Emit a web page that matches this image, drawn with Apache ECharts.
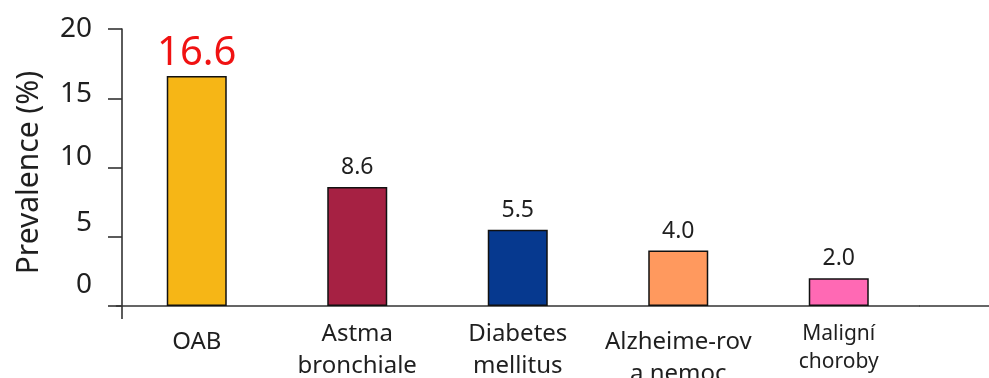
<!DOCTYPE html>
<html>
<head>
<meta charset="utf-8">
<script src="https://cdn.jsdelivr.net/npm/echarts@6/dist/echarts.min.js"></script>
<style>
  html, body { margin: 0; padding: 0; background: #fff; }
  #chart { width: 989px; height: 378px; }
</style>
</head>
<body>
<div id="chart"></div>
<script>
// Prevalence of selected chronic conditions (%)
const categories = ['OAB', 'Astma\nbronchiale', 'Diabetes\nmellitus', 'Alzheime-rov\na nemoc', 'Maligní\nchoroby'];
const prevalence = [16.6, 8.6, 5.5, 4.0, 2.0];
const barColors = ['#F6B616', '#A62143', '#06398F', '#FF995E', '#FF69B4'];
const yTicks = [0, 5, 10, 15, 20];

const GRID_LEFT = 116.5;
const GRID_TOP = 29;
const GRID_BOTTOM = 72;
const BAND = 160.5;
const Y_AXIS_SHIFT = 5.5;     // y axis sits slightly right of the grid edge
const AXIS_COLOR = '#333';
const TEXT_COLOR = '#1f1f1f';
const FONT = '"Noto Sans", "DejaVu Sans", sans-serif';

// vertical nudges (spacer line heights) for the y tick labels
const tickSpacer = { 0: 42, 5: 28, 10: 20, 15: 9, 20: 0 };

const chart = echarts.init(document.getElementById('chart'), null, { renderer: 'canvas' });

const categoryItems = categories.map((c, i) => {
  const item = { value: c };
  if (i === 0 || i === 3) item.textStyle = { padding: [8, 0, 0, 0] };
  if (i === 4) item.textStyle = { fontSize: 21, lineHeight: 28, padding: [2, 0, 0, 0] };
  return item;
});

const barItems = prevalence.map((v, i) => {
  const item = {
    value: v,
    itemStyle: { color: barColors[i], borderColor: '#111', borderWidth: 1.5 }
  };
  if (i === 0) item.label = { fontSize: 40, color: '#F01212', distance: 2 };
  return item;
});

const richTicks = { v: { fontSize: 28, color: TEXT_COLOR, fontFamily: FONT } };
yTicks.forEach(t => { richTicks['s' + t] = { fontSize: 2, lineHeight: tickSpacer[t] }; });

chart.setOption({
  animation: false,
  backgroundColor: '#fff',
  grid: {
    left: GRID_LEFT,
    top: GRID_TOP,
    bottom: GRID_BOTTOM,
    width: BAND * categories.length,
    outerBoundsMode: 'none'
  },
  xAxis: {
    type: 'category',
    data: categoryItems,
    axisLine: { lineStyle: { color: AXIS_COLOR, width: 1.6 } },
    axisTick: { show: false },
    axisLabel: {
      interval: 0,
      margin: 12,
      fontSize: 24,
      lineHeight: 32,
      color: TEXT_COLOR,
      fontFamily: FONT
    }
  },
  yAxis: {
    type: 'value',
    min: 0,
    max: 20,
    interval: 5,
    offset: -Y_AXIS_SHIFT,
    name: 'Prevalence (%)',
    nameLocation: 'middle',
    nameRotate: 90,
    nameGap: 78,
    nameTextStyle: { fontSize: 30, color: TEXT_COLOR, fontFamily: FONT, padding: [0, 10, 0, 0] },
    axisLine: { show: true, lineStyle: { color: AXIS_COLOR, width: 1.6 } },
    axisTick: { show: true, length: 14, lineStyle: { color: AXIS_COLOR, width: 1.6 } },
    splitLine: { show: false },
    axisLabel: {
      margin: 30,
      formatter: v => tickSpacer[v] ? '{v|' + v + '}\n{s' + v + '| }' : '{v|' + v + '}',
      rich: richTicks
    }
  },
  series: [{
    type: 'bar',
    barWidth: 60,
    data: barItems,
    label: {
      show: true,
      position: 'top',
      distance: 8,
      fontSize: 23,
      color: TEXT_COLOR,
      fontFamily: FONT,
      formatter: p => p.value.toFixed(1)
    }
  }]
});

// extend the axis lines: y axis a little below the baseline, x axis to the right edge
const axisX = GRID_LEFT + Y_AXIS_SHIFT;
const baseY = chart.convertToPixel({ yAxisIndex: 0 }, 0);
const gridRight = GRID_LEFT + BAND * categories.length;
chart.setOption({
  graphic: [
    { type: 'line', shape: { x1: axisX, y1: baseY, x2: axisX, y2: baseY + 13 },
      style: { stroke: AXIS_COLOR, lineWidth: 1.6 } },
    { type: 'line', shape: { x1: gridRight, y1: baseY, x2: chart.getWidth(), y2: baseY },
      style: { stroke: AXIS_COLOR, lineWidth: 1.6 } }
  ]
});
</script>
</body>
</html>
